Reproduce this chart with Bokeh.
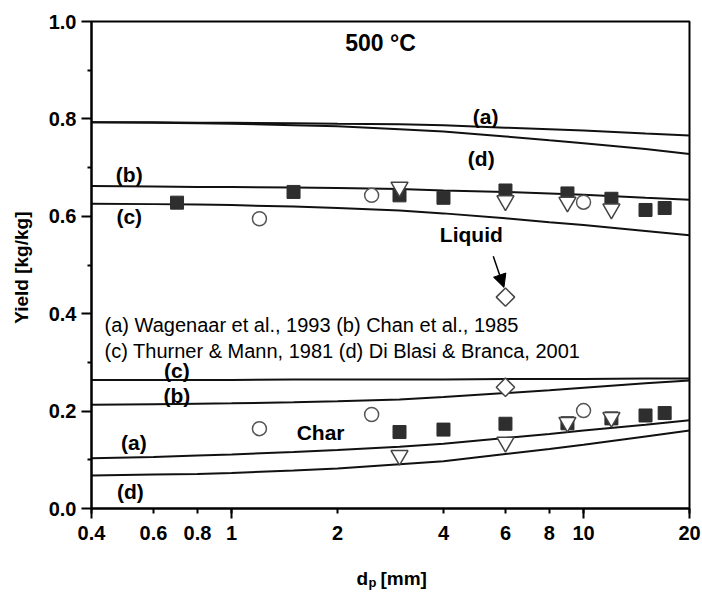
import numpy as np
from bokeh.plotting import figure
from bokeh.layouts import column
from bokeh.models import FixedTicker, CustomJSTickFormatter, Arrow, NormalHead
from bokeh.core.properties import value
from bokeh.embed import file_html
from bokeh.resources import INLINE

# ---- model curves (x = particle diameter, mm) ----
x_curve = [0.4, 0.6, 0.8, 1, 1.5, 2, 3, 4, 6, 8, 10, 15, 20]
liq_a = [0.793, 0.793, 0.792, 0.792, 0.791, 0.790, 0.789, 0.787, 0.782, 0.779, 0.776, 0.770, 0.766]
liq_d = [0.793, 0.792, 0.791, 0.790, 0.787, 0.785, 0.779, 0.774, 0.764, 0.756, 0.750, 0.738, 0.728]
liq_b = [0.662, 0.661, 0.660, 0.660, 0.659, 0.658, 0.656, 0.653, 0.650, 0.647, 0.644, 0.638, 0.634]
liq_c = [0.626, 0.625, 0.624, 0.623, 0.620, 0.617, 0.612, 0.606, 0.596, 0.588, 0.582, 0.570, 0.561]
char_c = [0.264, 0.264, 0.264, 0.264, 0.265, 0.265, 0.265, 0.265, 0.266, 0.266, 0.266, 0.267, 0.267]
char_b = [0.213, 0.214, 0.215, 0.216, 0.218, 0.220, 0.224, 0.229, 0.237, 0.243, 0.248, 0.257, 0.263]
char_a = [0.103, 0.106, 0.109, 0.111, 0.116, 0.120, 0.127, 0.133, 0.145, 0.153, 0.160, 0.172, 0.181]
char_d = [0.068, 0.070, 0.071, 0.073, 0.078, 0.082, 0.091, 0.097, 0.112, 0.122, 0.131, 0.148, 0.160]

# ---- experimental points ----
liq_sq_x = [0.7, 1.5, 3, 4, 6, 9, 12, 15, 17]
liq_sq_y = [0.628, 0.650, 0.643, 0.638, 0.653, 0.647, 0.636, 0.613, 0.617]
liq_circ_x = [1.2, 2.5, 10]
liq_circ_y = [0.595, 0.643, 0.629]
liq_tri_x = [3, 6, 9, 12]
liq_tri_y = [0.660, 0.632, 0.629, 0.615]
liq_dia_x = [6]
liq_dia_y = [0.434]

char_sq_x = [3, 4, 6, 9, 12, 15, 17]
char_sq_y = [0.157, 0.162, 0.174, 0.175, 0.185, 0.191, 0.196]
char_circ_x = [1.2, 2.5, 10]
char_circ_y = [0.164, 0.193, 0.201]
char_tri_x = [3, 6, 9, 12]
char_tri_y = [0.109, 0.136, 0.177, 0.187]
char_dia_x = [6]
char_dia_y = [0.249]

x_ticks = [0.4, 0.6, 0.8, 1, 2, 4, 6, 8, 10, 20]
x_long_ticks = [0.4, 1, 10, 20]
y_ticks = [0.0, 0.2, 0.4, 0.6, 0.8, 1.0]
y_minor = [0.1, 0.3, 0.5, 0.7, 0.9]

FONT = "Liberation Sans"

p = figure(frame_width=598, frame_height=487, x_axis_type="log",
           x_range=(0.4, 20), y_range=(0, 1),
           min_border_left=91, min_border_right=13, min_border_top=21, min_border_bottom=50,
           output_backend="svg", toolbar_location=None)
p.grid.visible = False
p.outline_line_color = "black"
p.outline_line_width = 2
p.background_fill_color = "white"
p.border_fill_color = "white"

# axes
xa = p.xaxis[0]
xa.ticker = FixedTicker(ticks=x_ticks, minor_ticks=x_long_ticks)
xa.formatter = CustomJSTickFormatter(code="return tick.toString();")
xa.major_tick_in = 0
xa.major_tick_out = 5
xa.minor_tick_in = 0
xa.minor_tick_out = 10
xa.axis_line_width = 2
xa.major_tick_line_width = 2
xa.minor_tick_line_width = 2
xa.major_label_standoff = 7
xa.major_label_text_font = FONT
xa.major_label_text_font_style = "bold"
xa.major_label_text_font_size = "20px"
xa.major_label_text_color = "black"

ya = p.yaxis[0]
ya.ticker = FixedTicker(ticks=y_ticks, minor_ticks=y_minor)
ya.formatter = CustomJSTickFormatter(code="return tick.toFixed(1);")
ya.major_tick_in = 0
ya.major_tick_out = 10
ya.minor_tick_in = 0
ya.minor_tick_out = 4
ya.axis_line_width = 2
ya.major_tick_line_width = 2
ya.minor_tick_line_width = 2
ya.major_label_standoff = 5
ya.major_label_text_font = FONT
ya.major_label_text_font_style = "bold"
ya.major_label_text_font_size = "20px"
ya.major_label_text_color = "black"
ya.axis_label = "Yield  [kg/kg]"
ya.axis_label_text_font = FONT
ya.axis_label_text_font_style = "bold"
ya.axis_label_text_font_size = "19px"
ya.axis_label_text_color = "black"
ya.axis_label_standoff = 14

# curves
for ys in (liq_a, liq_d, liq_b, liq_c, char_c, char_b, char_a, char_d):
    p.line(x_curve, ys, line_color="#111111", line_width=2)

# markers
SQ = "#2e2e2e"
p.scatter(liq_sq_x, liq_sq_y, marker="square", size=13, fill_color=SQ, line_color=SQ)
p.scatter(char_sq_x, char_sq_y, marker="square", size=13, fill_color=SQ, line_color=SQ)
p.scatter(liq_circ_x, liq_circ_y, marker="circle", size=14, fill_color="white", line_color="#555555", line_width=1.5)
p.scatter(char_circ_x, char_circ_y, marker="circle", size=14, fill_color="white", line_color="#555555", line_width=1.5)
p.scatter(liq_tri_x, liq_tri_y, marker="inverted_triangle", size=17, fill_color="white", line_color="#444444", line_width=1.5)
p.scatter(char_tri_x, char_tri_y, marker="inverted_triangle", size=17, fill_color="white", line_color="#444444", line_width=1.5)
p.scatter(liq_dia_x, liq_dia_y, marker="square", angle=np.pi / 4, size=13, fill_color="white", line_color="#444444", line_width=1.5)
p.scatter(char_dia_x, char_dia_y, marker="square", angle=np.pi / 4, size=13, fill_color="white", line_color="#444444", line_width=1.5)

# text annotations inside the frame
def txt(fig, x, y, s, size, bold=True, align="center", baseline="middle"):
    fig.text(x=[x], y=[y], text=[s], text_font=value(FONT),
             text_font_style="bold" if bold else "normal",
             text_font_size=size, text_align=align, text_baseline=baseline,
             text_color="black")

txt(p, 2.65, 0.955, "500 °C", "23px")
txt(p, 5.27, 0.805, "(a)", "21px")
txt(p, 5.12, 0.719, "(d)", "21px")
txt(p, 0.512, 0.686, "(b)", "21px")
txt(p, 0.512, 0.600, "(c)", "21px")
txt(p, 4.8, 0.563, "Liquid", "21px")
txt(p, 0.4356, 0.376, "(a) Wagenaar et al., 1993 (b) Chan et al., 1985", "20px", bold=False, align="left")
txt(p, 0.4356, 0.324, "(c) Thurner & Mann, 1981 (d) Di Blasi & Branca, 2001", "20px", bold=False, align="left")
txt(p, 0.699, 0.283, "(c)", "21px")
txt(p, 0.699, 0.232, "(b)", "21px")
txt(p, 0.528, 0.136, "(a)", "21px")
txt(p, 0.516, 0.035, "(d)", "21px")
txt(p, 1.79, 0.157, "Char", "21px")

p.add_layout(Arrow(end=NormalHead(size=13, fill_color="black", line_color="black"),
                   x_start=5.54, y_start=0.518, x_end=5.94, y_end=0.454,
                   line_color="black", line_width=1.5))

# strip below the chart holding the x-axis title (with subscript);
# its frame is aligned with the chart frame (pixel 91..689)
s = figure(frame_width=598, frame_height=34, x_range=(91, 689), y_range=(34, 0),
           min_border_left=91, min_border_right=13, min_border_top=0, min_border_bottom=0,
           output_backend="svg", toolbar_location=None)
s.axis.visible = False
s.grid.visible = False
s.outline_line_color = None
s.background_fill_color = "white"
s.border_fill_color = "white"
txt(s, 356, 20, "d", "19px", align="left", baseline="alphabetic")
txt(s, 368, 24, "p", "13px", align="left", baseline="alphabetic")
txt(s, 380, 20, "[mm]", "19px", align="left", baseline="alphabetic")

layout = column(p, s, spacing=0)
open("out.html", "w").write(file_html(layout, INLINE))
